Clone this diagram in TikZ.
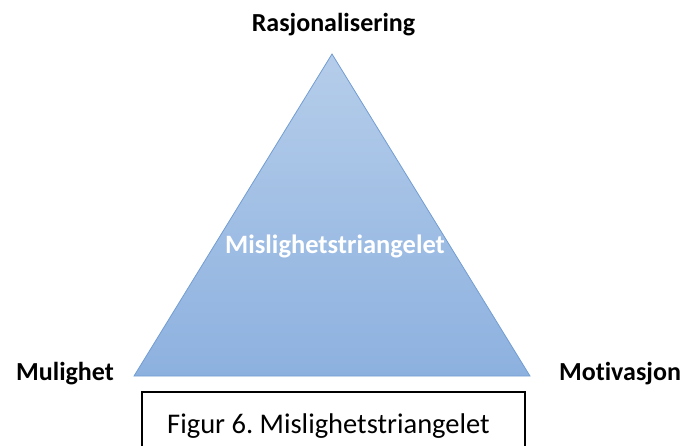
\documentclass[tikz,border=0pt]{standalone}
\usepackage{fontspec}
\setmainfont[Ligatures=NoCommon]{Carlito}
\frenchspacing
\begin{document}
\begin{tikzpicture}[x=1pt,y=-1pt,
  lbl/.style={font=\bfseries\fontsize{26}{30}\selectfont, text=black, inner sep=0pt, anchor=base},
  innertext/.style={font=\bfseries\fontsize{26.5}{30}\selectfont, text=white, inner sep=0pt, anchor=base},
  captext/.style={font=\fontsize{28.5}{32}\selectfont, inner sep=0pt, anchor=base}]
\useasboundingbox (0,0) rectangle (684,445);
\definecolor{tritop}{HTML}{B5CDEA}
\definecolor{tribot}{HTML}{8DB1DF}
\definecolor{triedge}{HTML}{729DD2}
\coordinate (apex) at (332,54);
\coordinate (bl) at (134,376);
\coordinate (br) at (530,376);
\shade[top color=tritop, bottom color=tribot, draw=triedge, line width=0.8pt]
  (apex) -- (br) -- (bl) -- cycle;
\node[lbl] (r) at (333.5,31) {Rasjonalisering};
\node[lbl] (m) at (65,380) {Mulighet};
\node[lbl] (v) at (620,380) {Motivasjon};
\node[innertext] (c) at (335,253) {Mislighetstriangelet};
\draw[line width=1.5pt] (142,460) -- (142,392) -- (525,392) -- (525,460);
\node[captext] (f) at (328.5,433) {Figur 6. Mislighetstriangelet};
\end{tikzpicture}
\end{document}
